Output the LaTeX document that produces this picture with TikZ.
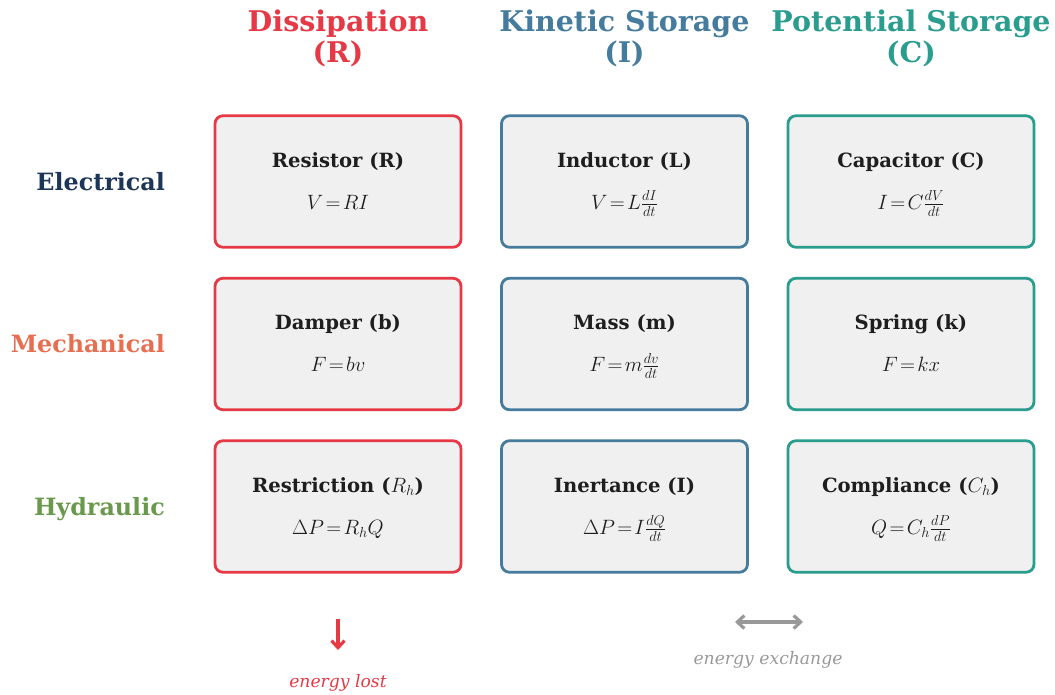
\documentclass[tikz,border=0pt]{standalone}
\usepackage[no-math]{fontspec}
\setmainfont{DejaVu Serif}
\usetikzlibrary{arrows.meta, positioning}

\definecolor{dissred}{HTML}{E63946}
\definecolor{kinblue}{HTML}{457B9D}
\definecolor{potteal}{HTML}{2A9D8F}
\definecolor{elecnavy}{HTML}{1D3557}
\definecolor{mechorange}{HTML}{E76F51}
\definecolor{hydgreen}{HTML}{6A994E}
\definecolor{cellgray}{HTML}{F0F0F0}
\definecolor{inkdark}{HTML}{1E1E1E}
\definecolor{flowgray}{HTML}{999999}

\newcommand{\tighteq}{\thickmuskip=2mu\relax}

\begin{document}
\begin{tikzpicture}[
x=1pt, y=-1pt,
node distance=28.2pt and 37.7pt,
>={Straight Barb[length=7pt, width=13pt]},
header/.style={
align=center, anchor=north,
font=\fontsize{28.5}{31}\selectfont\bfseries,
inner sep=0pt
},
rowlabel/.style={
anchor=base east, inner sep=0pt,
font=\fontsize{23.8}{28}\selectfont\bfseries
},
cell/.style={
rectangle, rounded corners=8pt,
draw, line width=2.8pt,
fill=cellgray,
minimum width=246pt, minimum height=131.5pt
},
celltitle/.style={
anchor=base, inner sep=0pt, text=inkdark,
font=\fontsize{19.6}{24}\selectfont\bfseries
},
celleq/.style={
anchor=base, inner sep=0pt, text=inkdark,
font=\fontsize{19.6}{24}\selectfont\tighteq
},
note/.style={
anchor=base, inner sep=0pt,
font=\fontsize{17.2}{20}\selectfont\itshape
},
flow/.style={line width=3.2pt}
]
\useasboundingbox (0,0) rectangle (1055,694);

% column headers
\node[header, text=dissred] (hdiss) at (338,10) {Dissipation\\(R)};
\node[header, text=kinblue] (hkin) at (624.5,10) {Kinetic Storage\\(I)};
\node[header, text=potteal] (hpot) at (911,10) {Potential Storage\\(C)};

% row labels
\node[rowlabel, text=elecnavy] (electrical) at (165,190) {Electrical};
\node[rowlabel, text=mechorange] (mechanical) at (165,352.5) {Mechanical};
\node[rowlabel, text=hydgreen] (hydraulic) at (165,515) {Hydraulic};

% boxes
\node[cell, draw=dissred] (resistor) at (338,181.5) {};
\node[cell, draw=kinblue, right=of resistor] (inductor) {};
\node[cell, draw=potteal, right=of inductor] (capacitor) {};

\node[cell, draw=dissred, below=of resistor] (damper) {};
\node[cell, draw=kinblue, right=of damper] (mass) {};
\node[cell, draw=potteal, right=of mass] (spring) {};

\node[cell, draw=dissred, below=of damper] (restriction) {};
\node[cell, draw=kinblue, right=of restriction] (inertance) {};
\node[cell, draw=potteal, right=of inertance] (compliance) {};

% box texts
\node[celltitle] (resistorT) at ([yshift=14.5pt]resistor.center) {Resistor (R)};
\node[celleq] (resistorE) at ([yshift=-27.5pt]resistor.center) {$V = RI$};
\node[celltitle] (inductorT) at ([yshift=14.5pt]inductor.center) {Inductor (L)};
\node[celleq] (inductorE) at ([yshift=-27.5pt]inductor.center) {$V = L\frac{dI}{dt}$};
\node[celltitle] (capacitorT) at ([yshift=14.5pt]capacitor.center) {Capacitor (C)};
\node[celleq] (capacitorE) at ([yshift=-27.5pt]capacitor.center) {$I = C\frac{dV}{dt}$};

\node[celltitle] (damperT) at ([yshift=14.5pt]damper.center) {Damper (b)};
\node[celleq] (damperE) at ([yshift=-27.5pt]damper.center) {$F = bv$};
\node[celltitle] (massT) at ([yshift=14.5pt]mass.center) {Mass (m)};
\node[celleq] (massE) at ([yshift=-27.5pt]mass.center) {$F = m\frac{dv}{dt}$};
\node[celltitle] (springT) at ([yshift=14.5pt]spring.center) {Spring (k)};
\node[celleq] (springE) at ([yshift=-27.5pt]spring.center) {$F = kx$};

\node[celltitle] (restrictionT) at ([yshift=14.5pt]restriction.center) {Restriction ($R_h$)};
\node[celleq] (restrictionE) at ([yshift=-27.5pt]restriction.center) {$\Delta P = R_hQ$};
\node[celltitle] (inertanceT) at ([yshift=14.5pt]inertance.center) {Inertance (I)};
\node[celleq] (inertanceE) at ([yshift=-27.5pt]inertance.center) {$\Delta P = I\frac{dQ}{dt}$};
\node[celltitle] (complianceT) at ([yshift=14.5pt]compliance.center) {Compliance ($C_h$)};
\node[celleq] (complianceE) at ([yshift=-27.5pt]compliance.center) {$Q = C_h\frac{dP}{dt}$};

% legend
\coordinate (lostFrom) at (338,619);
\coordinate (lostTo) at (338,650);
\draw[flow, dissred, ->] (lostFrom) -- (lostTo);
\node[note, text=dissred] (lostText) at (338,687) {energy lost};

\coordinate (swapL) at (735,622);
\coordinate (swapR) at (803,622);
\draw[flow, flowgray, <->] (swapL) -- (swapR);
\node[note, text=flowgray] (swapText) at (768,664) {energy exchange};

\end{tikzpicture}
\end{document}
